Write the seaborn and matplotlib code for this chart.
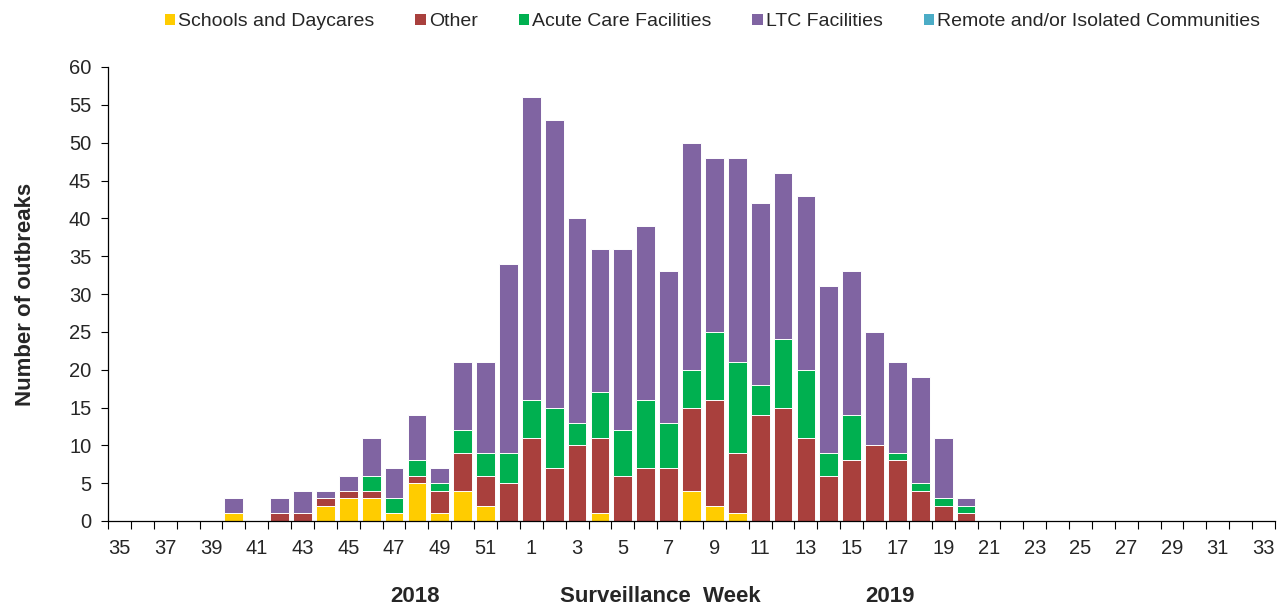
import matplotlib.pyplot as plt
import numpy as np
import pandas as pd
import seaborn as sns
from matplotlib.patches import Patch

# surveillance weeks: 2018 wk 35-52, then 2019 wk 1-33
weeks = [str(w) for w in list(range(35, 53)) + list(range(1, 34))]

# 2018 weeks 35..52 | 2019 weeks 1..20 | 2019 weeks 21..33 (all zero)
schools = [0, 0, 0, 0, 0, 1, 0, 0, 0, 2, 3, 3, 1, 5, 1, 4, 2, 0] + \
          [0, 0, 0, 1, 0, 0, 0, 4, 2, 1, 0, 0, 0, 0, 0, 0, 0, 0, 0, 0] + [0] * 13
other = [0, 0, 0, 0, 0, 0, 0, 1, 1, 1, 1, 1, 0, 1, 3, 5, 4, 5] + \
        [11, 7, 10, 10, 6, 7, 7, 11, 14, 8, 14, 15, 11, 6, 8, 10, 8, 4, 2, 1] + [0] * 13
acute = [0, 0, 0, 0, 0, 0, 0, 0, 0, 0, 0, 2, 2, 2, 1, 3, 3, 4] + \
        [5, 8, 3, 6, 6, 9, 6, 5, 9, 12, 4, 9, 9, 3, 6, 0, 1, 1, 1, 1] + [0] * 13
ltc = [0, 0, 0, 0, 0, 2, 0, 2, 3, 1, 2, 5, 4, 6, 2, 9, 12, 25] + \
      [40, 38, 27, 19, 24, 23, 20, 30, 23, 27, 24, 22, 23, 22, 19, 15, 12, 14, 8, 1] + [0] * 13
remote = [0] * 51

series = ["Schools and Daycares", "Other", "Acute Care Facilities",
          "LTC Facilities", "Remote and/or Isolated Communities"]
colors = ["#FFCC00", "#A9403D", "#00B050", "#8064A2", "#4BACC6"]

sns.set_style("white")
plt.rcParams["font.family"] = ["Liberation Sans", "DejaVu Sans"]

fig = plt.figure(figsize=(12.86, 6.07), dpi=100)
ax = fig.add_axes([108 / 1286, 1 - 521 / 607, (1275 - 108) / 1286, (521 - 67) / 607])

# stacked bars: draw cumulative totals, tallest first
layers = np.array([schools, other, acute, ltc, remote])
cum = np.cumsum(layers, axis=0)
for i in range(len(series) - 1, -1, -1):
    df = pd.DataFrame({"week": weeks, "n": cum[i]})
    sns.barplot(data=df, x="week", y="n", order=weeks, color=colors[i],
                saturation=1, width=0.82, edgecolor="white", linewidth=0.7, ax=ax)

ax.set_xlim(-0.5, len(weeks) - 0.5)
ax.set_ylim(0, 60)
ax.set_yticks(range(0, 61, 5))
ax.set_xticks(range(0, len(weeks), 2))
ax.set_xticklabels(weeks[::2])
ax.set_xticks(np.arange(-0.5, len(weeks), 1), minor=True)
ax.tick_params(axis="x", which="both", bottom=True)
ax.tick_params(axis="x", which="major", length=0, pad=13, labelsize=14.5)
ax.tick_params(axis="x", which="minor", length=6, width=0.8, color="black", direction="out")
ax.tick_params(axis="y", length=5, width=0.8, color="black", direction="out", pad=7,
               labelsize=14.5, left=True)
ax.set_xlabel("")
ax.set_ylabel("Number of outbreaks", fontsize=16, fontweight="bold", labelpad=24)

for s in ["top", "right"]:
    ax.spines[s].set_visible(False)
for s in ["left", "bottom"]:
    ax.spines[s].set_color("black")
    ax.spines[s].set_linewidth(0.9)

# year / axis title row under the week labels
for xp, txt in [(0.263, "2018"), (0.473, "Surveillance  Week"), (0.670, "2019")]:
    ax.text(xp, -0.167, txt, transform=ax.transAxes, ha="center", va="center",
            fontsize=16, fontweight="bold")

handles = [Patch(facecolor=c, edgecolor="none") for c in colors]
fig.legend(handles, series, loc="center", bbox_to_anchor=(0.554, 1 - 22 / 607), ncol=5,
           frameon=False, fontsize=14, handlelength=0.55, handleheight=0.55,
           handletextpad=0.15, columnspacing=2.1)

fig.savefig("out.png", dpi=100)
